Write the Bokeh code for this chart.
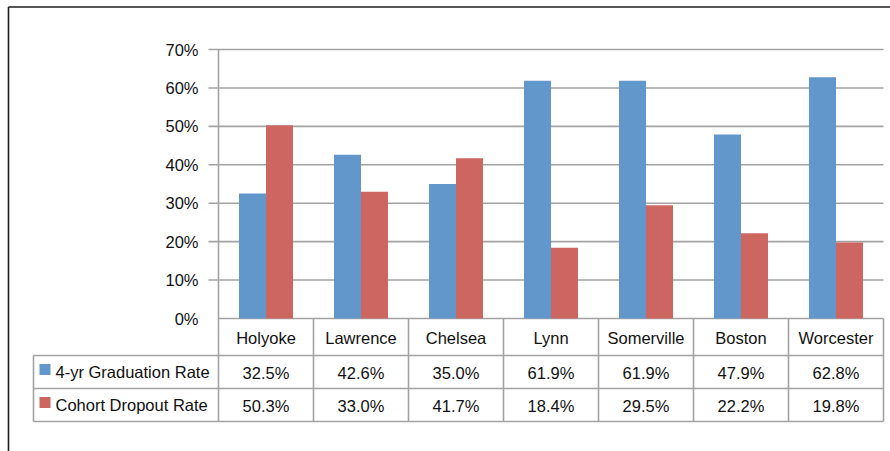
from bokeh.plotting import figure
from bokeh.models import Range1d, ColumnDataSource
from bokeh.core.properties import value
from bokeh.embed import file_html
from bokeh.resources import INLINE

# ---- data ----
cities = ["Holyoke", "Lawrence", "Chelsea", "Lynn", "Somerville", "Boston", "Worcester"]
grad_rate = [32.5, 42.6, 35.0, 61.9, 61.9, 47.9, 62.8]
dropout_rate = [50.3, 33.0, 41.7, 18.4, 29.5, 22.2, 19.8]
series_names = ["4-yr Graduation Rate", "Cohort Dropout Rate"]
y_ticks = [0, 10, 20, 30, 40, 50, 60, 70]

# ---- layout constants ----
W, H = 890, 451
U = 95.0                      # px per category
K = (318 - 49) / 70.0         # px per percent
x_start = -0.5 - 218 / U
x_end = x_start + W / U
y_end = 70 + 49 / K
y_start = y_end - H / K

def sx(px):
    return x_start + px / U

def sy(py):
    return y_end - py / K

BLUE = "#6297CB"
RED = "#CD6660"
GRID = "#A3A3A3"
FONT = value("Liberation Sans")
FS = value("16.5px")

p = figure(width=W, height=H, x_range=Range1d(x_start, x_end), y_range=Range1d(y_start, y_end),
           x_axis_type=None, y_axis_type=None, toolbar_location=None, output_backend="svg",
           min_border=0, outline_line_color=None)
p.grid.visible = False
p.background_fill_color = "white"
p.border_fill_color = "white"

n = len(cities)
idx = list(range(n))
left_edge = -0.5
right_edge = n - 0.5

# gridlines (with outward ticks except at 0)
for t in y_ticks:
    x0 = left_edge if t == 0 else sx(208)
    p.segment(x0=[x0], y0=[t], x1=[right_edge], y1=[t], line_color=GRID, line_width=1.6)

# bars
bw = 27 / U
src = ColumnDataSource(dict(x=idx, grad=grad_rate, drop=dropout_rate,
                            xg=[i - bw / 2 for i in idx], xd=[i + bw / 2 for i in idx]))
p.vbar(x="xg", top="grad", bottom=0, width=bw, source=src, fill_color=BLUE, line_color=None)
p.vbar(x="xd", top="drop", bottom=0, width=bw, source=src, fill_color=RED, line_color=None)

# vertical axis line
p.segment(x0=[left_edge], y0=[70], x1=[left_edge], y1=[sy(421)], line_color=GRID, line_width=1.6)

# y tick labels
p.text(x=[sx(198)] * len(y_ticks), y=y_ticks, text=[f"{t}%" for t in y_ticks],
       text_align="right", text_baseline="middle", text_font=FONT, text_font_size=FS,
       text_color="#111111")

# data table lines
row_lines = [355, 388, 421]
for py in row_lines:
    p.segment(x0=[sx(33)], y0=[sy(py)], x1=[right_edge], y1=[sy(py)], line_color=GRID, line_width=1.6)
p.segment(x0=[sx(33)], y0=[sy(355)], x1=[sx(33)], y1=[sy(421)], line_color=GRID, line_width=1.6)
for k in range(1, n + 1):
    xb = left_edge + k
    p.segment(x0=[xb], y0=[0], x1=[xb], y1=[sy(421)], line_color=GRID, line_width=1.6)

# category labels
p.text(x=idx, y=[sy(337)] * n, text=cities, text_align="center", text_baseline="middle",
       text_font=FONT, text_font_size=FS, text_color="#111111")
# values
p.text(x=idx, y=[sy(372)] * n, text=[f"{v:.1f}%" for v in grad_rate], text_align="center",
       text_baseline="middle", text_font=FONT, text_font_size=FS, text_color="#111111")
p.text(x=idx, y=[sy(405)] * n, text=[f"{v:.1f}%" for v in dropout_rate], text_align="center",
       text_baseline="middle", text_font=FONT, text_font_size=FS, text_color="#111111")

# legend keys + names
p.scatter(x=[sx(44.5), sx(44.5)], y=[sy(369), sy(402)], marker="square", size=11,
          fill_color=[BLUE, RED], line_color=None)
p.text(x=[sx(55), sx(55)], y=[sy(371), sy(404)], text=series_names, text_align="left",
       text_baseline="middle", text_font=FONT, text_font_size=FS, text_color="#111111")

# outer chart border (top and left visible)
p.segment(x0=[sx(8), sx(8)], y0=[sy(6.5), sy(6.5)], x1=[sx(890), sx(8)], y1=[sy(6.5), sy(451)],
          line_color="#1E1E1E", line_width=1.6)

open("out.html", "w").write(file_html(p, INLINE))
